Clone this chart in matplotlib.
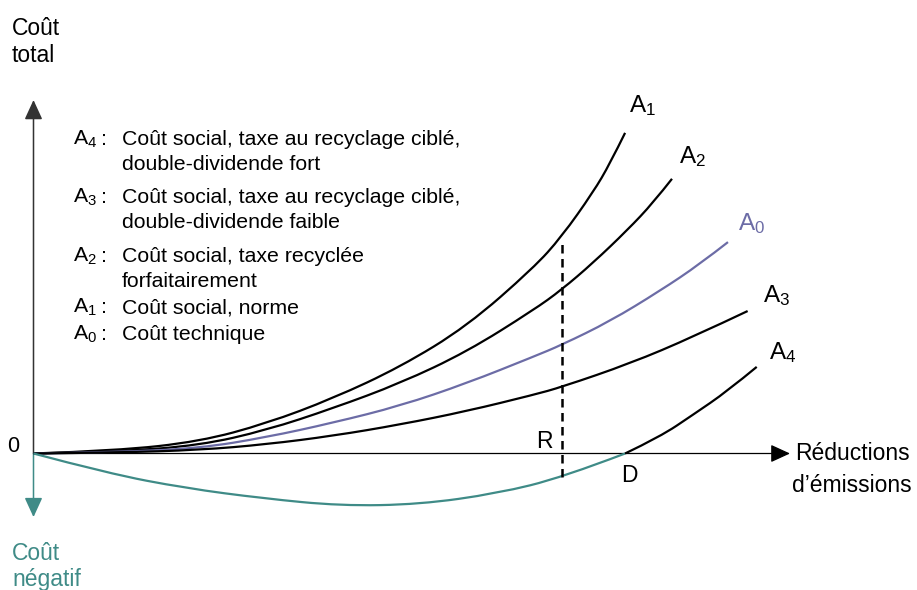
import numpy as np
import matplotlib
matplotlib.use("Agg")
import matplotlib.pyplot as plt
from matplotlib.path import Path
from matplotlib.patches import PathPatch

plt.rcParams['font.family'] = ['Liberation Sans', 'DejaVu Sans']
plt.rcParams['mathtext.fontset'] = 'custom'
plt.rcParams['mathtext.rm'] = 'Liberation Sans'

# curves (x: reductions 0-100, y: total cost)
a1_x = [0, 11, 22.0, 30.8, 39.6, 48.5, 57.3, 66.1, 69.8, 74.0, 76.2, 78.2]
a1_y = [0, 0.8, 3.4, 8.5, 15.6, 24.5, 36.0, 52.5, 61.3, 74.0, 82.0, 90.7]

a2_x = [0, 11, 22.0, 30.8, 39.6, 48.5, 57.3, 66.1, 69.8, 74.0, 78.5, 81.9, 84.4]
a2_y = [0, 0.5, 2.3, 6.6, 12.8, 19.9, 28.8, 40.6, 46.3, 54.0, 63.2, 70.9, 77.7]

a0_x = [0, 11, 22.0, 30.8, 39.6, 48.5, 57.3, 66.1, 69.8, 76.2, 82.8, 88.1, 91.8]
a0_y = [0, 0.35, 1.5, 4.6, 8.7, 13.5, 19.9, 27.4, 30.7, 37.4, 46.0, 53.6, 59.8]

a3_x = [0, 11, 22.0, 30.8, 39.6, 48.5, 57.3, 66.1, 69.8, 78.9, 87.2, 94.4]
a3_y = [0, 0.25, 1.0, 2.6, 5.0, 8.2, 12.0, 16.6, 18.8, 25.5, 33.0, 40.3]

a4_x = [0, 9.8, 20.1, 30.4, 40.6, 51.0, 61.3, 70.0, 78.2, 82.8, 87.2, 91.7, 95.6]
a4_y = [0, -5.6, -9.8, -12.7, -14.8, -14.4, -11.3, -6.7, 0, 4.7, 11.0, 17.6, 24.5]

r_x = 69.9
r_top = 59.5
d_x = 78.2

legend_keys = ['4', '3', '2', '1', '0']
legend_lines = [
    ["Coût social, taxe au recyclage ciblé,", "double-dividende fort"],
    ["Coût social, taxe au recyclage ciblé,", "double-dividende faible"],
    ["Coût social, taxe recyclée", "forfaitairement"],
    ["Coût social, norme"],
    ["Coût technique"],
]

teal = '#3f8b87'
purple = '#6c6ca6'

W, H = 917, 590
fig = plt.figure(figsize=(W / 100, H / 100), dpi=100)
ax = fig.add_axes([0, 0, 1, 1])
ax.set_xlim(-33.5 / 7.565, (W - 33.5) / 7.565)
ax.set_ylim((453.5 - H) / 3.535, 453.5 / 3.535)
ax.axis('off')


def smooth(x, y, color, lw=1.6):
    pts = np.column_stack([x, y])
    verts = [pts[0]]
    codes = [Path.MOVETO]
    for i in range(1, len(pts) - 1):
        verts += [pts[i], (pts[i] + pts[i + 1]) / 2]
        codes += [Path.CURVE3, Path.CURVE3]
    if len(pts) > 2:
        verts[-1] = pts[-1]
    else:
        verts.append(pts[-1])
        codes.append(Path.LINETO)
    ax.add_patch(PathPatch(Path(verts, codes), fill=False, edgecolor=color,
                           lw=lw, capstyle='butt', zorder=3))


def arrow(x0, y0, x1, y1, color, lw):
    ax.annotate('', xy=(x1, y1), xytext=(x0, y0),
                arrowprops=dict(arrowstyle='-|>,head_length=1.2,head_width=0.55',
                                mutation_scale=10, color=color, lw=lw,
                                shrinkA=0, shrinkB=0), zorder=2)


# axes
arrow(0, 0, 100, 0, 'black', 0.9)
arrow(0, 0, 0, 100, '#333333', 1.1)
arrow(0, 0, 0, -18, teal, 1.1)

# curves
smooth(a1_x, a1_y, 'black')
smooth(a2_x, a2_y, 'black')
smooth(a0_x, a0_y, purple)
smooth(a3_x, a3_y, 'black')
a4_x = np.array(a4_x)
a4_y = np.array(a4_y)
neg = a4_x <= d_x
pos = a4_x >= d_x
smooth(a4_x[neg], a4_y[neg], teal)
smooth(a4_x[pos], a4_y[pos], 'black')

# R dashed line
r_bottom = np.interp(r_x, a4_x, a4_y)
ax.plot([r_x, r_x], [r_bottom, r_top], color='black', lw=1.8,
        linestyle=(0, (3.4, 2.2)), zorder=4)


def px(x, y):
    return x / W, 1 - y / H


def label(x, y, s, size=16.5, color='black', **kw):
    fig.text(*px(x, y), s, fontsize=size, color=color, va='baseline', **kw)


def sub(k):
    return r'$\mathregular{A_{%s}}$' % k


# legend
rows = [[145, 170], [203, 228], [262, 287], [313], [340]]
for key, lines, ys in zip(legend_keys, legend_lines, rows):
    label(73, ys[0], sub(key), size=15.3)
    label(101, ys[0], ':', size=15.3)
    for s, yy in zip(lines, ys):
        label(122, yy, s, size=15.3)

# curve labels
label(629, 112, sub('1'), size=17.5)
label(679, 163, sub('2'), size=17.5)
label(738, 230, sub('0'), size=17.5, color=purple)
label(763, 302, sub('3'), size=17.5)
label(769, 359, sub('4'), size=17.5)
label(536, 448, 'R', size=16.5)
label(621, 482, 'D', size=16.5)
label(7, 452, '0', size=15.5)

label(12, 35, 'Coût', size=16.5)
label(12, 62, 'total', size=16.5)
label(12, 560, 'Coût', size=16.5, color=teal)
label(12, 586, 'négatif', size=16.5, color=teal)
label(852, 460, 'Réductions', size=16.5, ha='center')
label(852, 492, 'd’émissions', size=16.5, ha='center')

fig.savefig('out.png', dpi=100)
